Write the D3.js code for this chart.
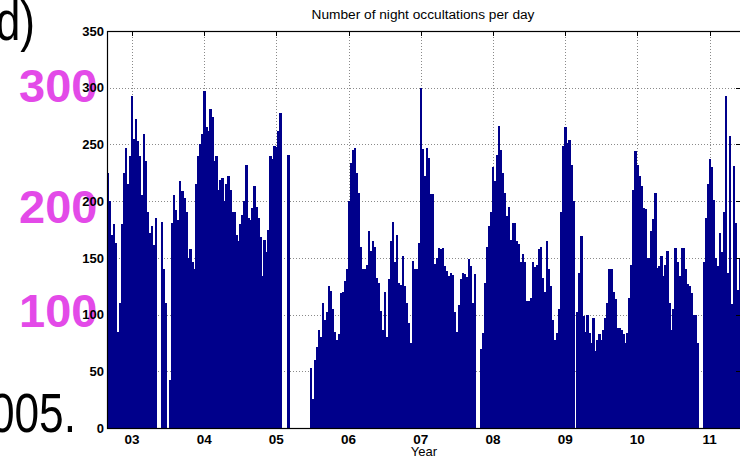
<!DOCTYPE html>
<html>
<head>
<meta charset="utf-8">
<script src="https://cdn.jsdelivr.net/npm/d3@7/dist/d3.min.js"></script>
<style>
body { margin: 0; background: #fff; }
svg { display: block; font-family: "Liberation Sans", Arial, Helvetica, sans-serif; }
</style>
</head>
<body>
<script>
// night occultations per day, one reading every 1/36 year starting late Aug 2002
var counts = [
  225,200,170,180,163,85,110,180,225,247,
  215,240,293,255,272,253,240,205,259,235,
  190,172,178,161,185,0,0,182,140,110,
  0,42,181,205,192,183,218,209,203,190,
  150,158,146,140,215,240,250,259,297,265,
  262,281,274,235,240,210,219,220,200,215,
  222,210,190,190,170,165,180,188,200,232,
  185,183,194,213,195,185,168,134,166,155,
  175,240,237,249,248,262,278,0,0,0,
  241,0,0,0,0,0,0,0,0,0,
  0,53,26,60,71,86,80,110,95,102,
  125,121,105,85,78,83,119,120,130,140,
  200,234,245,247,225,207,160,140,140,144,
  174,156,165,160,132,128,103,86,120,80,
  131,165,182,146,170,128,126,152,125,110,
  93,75,147,140,140,163,300,246,222,247,
  238,206,206,145,150,159,158,159,143,138,
  134,137,135,102,85,108,131,137,136,133,
  149,143,110,136,0,0,70,84,128,160,
  178,190,230,218,241,266,245,225,207,187,
  195,166,181,181,165,162,146,153,146,112,
  112,115,146,142,144,158,160,132,120,165,
  140,125,95,78,84,105,190,249,265,251,
  254,232,200,0,102,137,169,99,85,100,
  84,75,97,68,78,83,78,86,97,110,
  140,140,120,114,88,88,86,83,75,84,
  115,144,210,244,232,222,213,194,193,150,
  150,174,184,207,141,143,152,134,144,156,
  110,86,105,159,146,134,159,159,140,127,
  125,119,100,100,75,0,0,146,185,215,
  237,230,201,150,143,172,155,190,293,137,
  257,109,231,181,122,150
];
var firstSample = 2002.6537;
var samplesPerYear = 36;
var lastYear = 2011.436;

var yearTicks = [2003, 2004, 2005, 2006, 2007, 2008, 2009, 2010, 2011];
var yearLabels = ["03", "04", "05", "06", "07", "08", "09", "10", "11"];
var yTicks = [0, 50, 100, 150, 200, 250, 300, 350];

var titleText = "Number of night occultations per day";
var xTitle = "Year";
var slideNumbers = ["300", "200", "100"];
var slideLetter = "d)";
var slideYear = "2005.";

var width = 740,
    height = 459;
var plot = {left: 107, top: 31, right: 741, bottom: 428};

var svg = d3.select("body").append("svg")
    .attr("width", width)
    .attr("height", height);

svg.append("rect")
    .attr("width", width)
    .attr("height", height)
    .attr("fill", "#fff");

var x = d3.scaleLinear()
    .domain([firstSample, lastYear])
    .range([plot.left, plot.right]);

var y = d3.scaleLinear()
    .domain([0, 350])
    .range([plot.bottom, plot.top]);

var grid = svg.append("g")
    .attr("stroke", "#8a8a8a")
    .attr("stroke-width", 1)
    .attr("stroke-dasharray", "1,2")
    .attr("shape-rendering", "crispEdges");

grid.selectAll("line.v")
    .data(yearTicks)
  .enter().append("line")
    .attr("class", "v")
    .attr("x1", function(d) { return Math.round(x(d)) + 0.5; })
    .attr("x2", function(d) { return Math.round(x(d)) + 0.5; })
    .attr("y1", plot.top)
    .attr("y2", plot.bottom);

grid.selectAll("line.h")
    .data(yTicks.slice(1, -1))
  .enter().append("line")
    .attr("class", "h")
    .attr("x1", plot.left)
    .attr("x2", plot.right)
    .attr("y1", function(d) { return Math.round(y(d)) + 0.5; })
    .attr("y2", function(d) { return Math.round(y(d)) + 0.5; });

// bars
var barW = x(firstSample + 1 / samplesPerYear) - x(firstSample);
svg.append("g")
    .attr("fill", "#00008b")
    .attr("shape-rendering", "crispEdges")
  .selectAll("rect")
    .data(counts)
  .enter().append("rect")
    .attr("x", function(d, i) { return x(firstSample + i / samplesPerYear); })
    .attr("width", barW + 0.3)
    .attr("y", function(d) { return y(d); })
    .attr("height", function(d) { return y(0) - y(d); });

// ticks (inward)
var ticks = svg.append("g")
    .attr("stroke", "#000")
    .attr("stroke-width", 1)
    .attr("shape-rendering", "crispEdges");

ticks.selectAll("line.tx")
    .data(yearTicks)
  .enter().append("line")
    .attr("x1", function(d) { return Math.round(x(d)) + 0.5; })
    .attr("x2", function(d) { return Math.round(x(d)) + 0.5; })
    .attr("y1", plot.top)
    .attr("y2", plot.top + 5);

ticks.selectAll("line.tyr")
    .data(yTicks)
  .enter().append("line")
    .attr("x1", plot.right - 5)
    .attr("x2", plot.right)
    .attr("y1", function(d) { return Math.round(y(d)) + 0.5; })
    .attr("y2", function(d) { return Math.round(y(d)) + 0.5; });

// box
svg.append("rect")
    .attr("x", plot.left + 0.5)
    .attr("y", plot.top + 0.5)
    .attr("width", plot.right - plot.left)
    .attr("height", plot.bottom - plot.top)
    .attr("fill", "none")
    .attr("stroke", "#000")
    .attr("stroke-width", 1.2);

// slide overlay numbers (under the axis labels)
svg.selectAll("text.slide")
    .data(slideNumbers)
  .enter().append("text")
    .attr("class", "slide")
    .attr("x", 19)
    .attr("y", function(d, i) { return [102, 223, 327][i]; })
    .attr("fill", "#e34ae8")
    .attr("font-weight", "bold")
    .attr("font-size", 47)
    .text(function(d) { return d; });

svg.selectAll("text.ylab")
    .data(yTicks)
  .enter().append("text")
    .attr("class", "ylab")
    .attr("x", plot.left - 3)
    .attr("y", function(d) { return y(d); })
    .attr("dy", "0.36em")
    .attr("text-anchor", "end")
    .attr("font-weight", "bold")
    .attr("font-size", 13)
    .text(function(d) { return d; });

svg.selectAll("text.xlab")
    .data(yearTicks)
  .enter().append("text")
    .attr("class", "xlab")
    .attr("x", function(d) { return x(d); })
    .attr("y", 444)
    .attr("text-anchor", "middle")
    .attr("font-weight", "bold")
    .attr("font-size", 13.5)
    .text(function(d, i) { return yearLabels[i]; });

svg.append("text")
    .attr("x", (plot.left + plot.right) / 2)
    .attr("y", 456)
    .attr("text-anchor", "middle")
    .attr("font-size", 13)
    .text(xTitle);

svg.append("text")
    .attr("x", (plot.left + plot.right) / 2 - 1)
    .attr("y", 19)
    .attr("text-anchor", "middle")
    .attr("font-size", 13.7)
    .text(titleText);

// slide text around the chart, narrower than the stock font
svg.append("g")
    .attr("transform", "translate(35,40) scale(0.79,1)")
  .append("text")
    .attr("text-anchor", "end")
    .attr("font-size", 56)
    .text(slideLetter);

svg.append("g")
    .attr("transform", "translate(76,432) scale(0.79,1)")
  .append("text")
    .attr("text-anchor", "end")
    .attr("font-size", 56)
    .text(slideYear);
</script>
</body>
</html>
